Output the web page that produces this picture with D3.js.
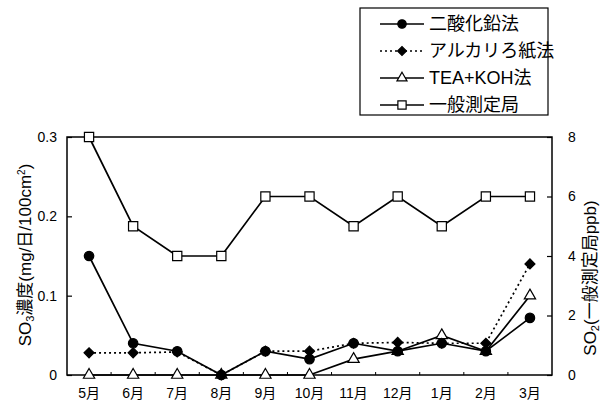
<!DOCTYPE html>
<html>
<head>
<meta charset="utf-8">
<script src="https://d3js.org/d3.v7.min.js"></script>
<style>
  body { margin: 0; background: #fff; }
  text { font-family: "Liberation Sans", Arial, "Noto Sans CJK JP", sans-serif; fill: #000; }
  .jp { font-family: "Liberation Sans", "Noto Sans CJK JP", sans-serif; }
</style>
</head>
<body>
<div id="chart"></div>
<script>
const months = ["5月", "6月", "7月", "8月", "9月", "10月", "11月", "12月", "1月", "2月", "3月"];
const pbo2 = [0.15, 0.04, 0.03, 0, 0.03, 0.02, 0.04, 0.03, 0.04, 0.03, 0.072];
const alkali = [0.028, 0.028, 0.029, 0, 0.03, 0.03, 0.04, 0.041, 0.04, 0.04, 0.14];
const teaKoh = [0, 0, 0, 0, 0, 0, 0.02, 0.03, 0.05, 0.03, 0.10];
const general = [8, 5, 4, 4, 6, 6, 5, 6, 5, 6, 6];
const leftTicks = [0, 0.1, 0.2, 0.3];
const rightTicks = [0, 2, 4, 6, 8];

const width = 603, height = 406;
const m = { left: 67, right: 552, top: 137, bottom: 375 };

const svg = d3.select("#chart").append("svg")
    .attr("width", width)
    .attr("height", height);

const x = d3.scalePoint().domain(months).range([m.left, m.right]).padding(0.5);
const y = d3.scaleLinear().domain([0, 0.3]).range([m.bottom, m.top]);
const y2 = d3.scaleLinear().domain([0, 8]).range([m.bottom, m.top]);

// frame
svg.append("rect")
    .attr("x", m.left).attr("y", m.top)
    .attr("width", m.right - m.left).attr("height", m.bottom - m.top)
    .attr("fill", "none").attr("stroke", "#000").attr("stroke-width", 1.5);

// left axis
const yAxis = svg.append("g")
    .attr("transform", `translate(${m.left},0)`)
    .call(d3.axisLeft(y).tickValues(leftTicks).tickSize(-5).tickPadding(10).tickFormat(d => d === 0 ? "0" : d3.format(".1f")(d)));
yAxis.select(".domain").remove();
yAxis.selectAll("line").attr("stroke-width", 1.2);
yAxis.selectAll("text").attr("font-size", 14).attr("fill", "#000");

// right axis
const y2Axis = svg.append("g")
    .attr("transform", `translate(${m.right},0)`)
    .call(d3.axisRight(y2).tickValues(rightTicks).tickSize(-5).tickPadding(16));
y2Axis.select(".domain").remove();
y2Axis.selectAll("line").attr("stroke-width", 1.2);
y2Axis.selectAll("text").attr("font-size", 14).attr("fill", "#000");

// bottom axis: ticks at band boundaries, labels at points
const step = x.step();
const bounds = d3.range(1, months.length).map(i => m.left + i * step);
svg.append("g").selectAll("line")
    .data(bounds)
    .join("line")
    .attr("x1", d => d).attr("x2", d => d)
    .attr("y1", m.bottom).attr("y2", m.bottom - 3)
    .attr("stroke", "#000").attr("stroke-width", 1);
svg.append("g").selectAll("text")
    .data(months)
    .join("text")
    .attr("class", "jp")
    .attr("x", d => x(d))
    .attr("y", 398)
    .attr("text-anchor", "middle")
    .attr("font-size", 14)
    .text(d => d);

// axis titles
svg.append("text")
    .attr("class", "jp")
    .attr("transform", "translate(31,255) rotate(-90)")
    .attr("text-anchor", "middle")
    .attr("font-size", 17)
    .html('SO<tspan font-size="11" dy="3">3</tspan><tspan dy="-3">濃度(mg/日/100cm</tspan><tspan font-size="10" dy="-6">2</tspan><tspan dy="6">)</tspan>');

svg.append("text")
    .attr("class", "jp")
    .attr("transform", "translate(596,278) rotate(-90)")
    .attr("text-anchor", "middle")
    .attr("font-size", 17)
    .html('SO<tspan font-size="11" dy="3">2</tspan><tspan dy="-3">(一般測定局ppb)</tspan>');

const series = [
  { name: "一般測定局", values: general, scale: y2, symbol: d3.symbolSquare, size: 85, fill: "#fff", dash: null, rot: 0 },
  { name: "TEA+KOH法", values: teaKoh, scale: y, symbol: d3.symbolTriangle, size: 55, fill: "#fff", dash: null, rot: 0 },
  { name: "アルカリろ紙法", values: alkali, scale: y, symbol: d3.symbolSquare, size: 50, fill: "#000", dash: "2,3", rot: 45 },
  { name: "二酸化鉛法", values: pbo2, scale: y, symbol: d3.symbolCircle, size: 70, fill: "#000", dash: null, rot: 0 }
];

series.forEach(s => {
  const line = d3.line()
      .x((d, i) => x(months[i]))
      .y(d => s.scale(d));
  svg.append("path")
      .datum(s.values)
      .attr("d", line)
      .attr("fill", "none")
      .attr("stroke", "#000")
      .attr("stroke-width", 1.7)
      .attr("stroke-dasharray", s.dash);
  svg.append("g").selectAll("path")
      .data(s.values)
      .join("path")
      .attr("d", d3.symbol().type(s.symbol).size(s.size))
      .attr("transform", (d, i) => `translate(${x(months[i])},${s.scale(d)}) rotate(${s.rot})`)
      .attr("fill", s.fill)
      .attr("stroke", "#000")
      .attr("stroke-width", 1.2);
});

// legend
const legendOrder = [series[3], series[2], series[1], series[0]];
const lg = svg.append("g");
lg.append("rect")
    .attr("x", 360).attr("y", 8)
    .attr("width", 188).attr("height", 107)
    .attr("fill", "#fff").attr("stroke", "#000").attr("stroke-width", 1.2);
legendOrder.forEach((s, i) => {
  const cy = 24 + i * 27;
  lg.append("line")
      .attr("x1", 380).attr("x2", 424)
      .attr("y1", cy).attr("y2", cy)
      .attr("stroke", "#000").attr("stroke-width", 1.5)
      .attr("stroke-dasharray", s.dash);
  lg.append("path")
      .attr("d", d3.symbol().type(s.symbol).size(s.size * 0.8))
      .attr("transform", `translate(402,${cy}) rotate(${s.rot})`)
      .attr("fill", s.fill).attr("stroke", "#000").attr("stroke-width", 1.2);
  lg.append("text")
      .attr("class", "jp")
      .attr("x", 429).attr("y", cy + 6)
      .attr("font-size", 18)
      .text(s.name);
});
</script>
</body>
</html>
